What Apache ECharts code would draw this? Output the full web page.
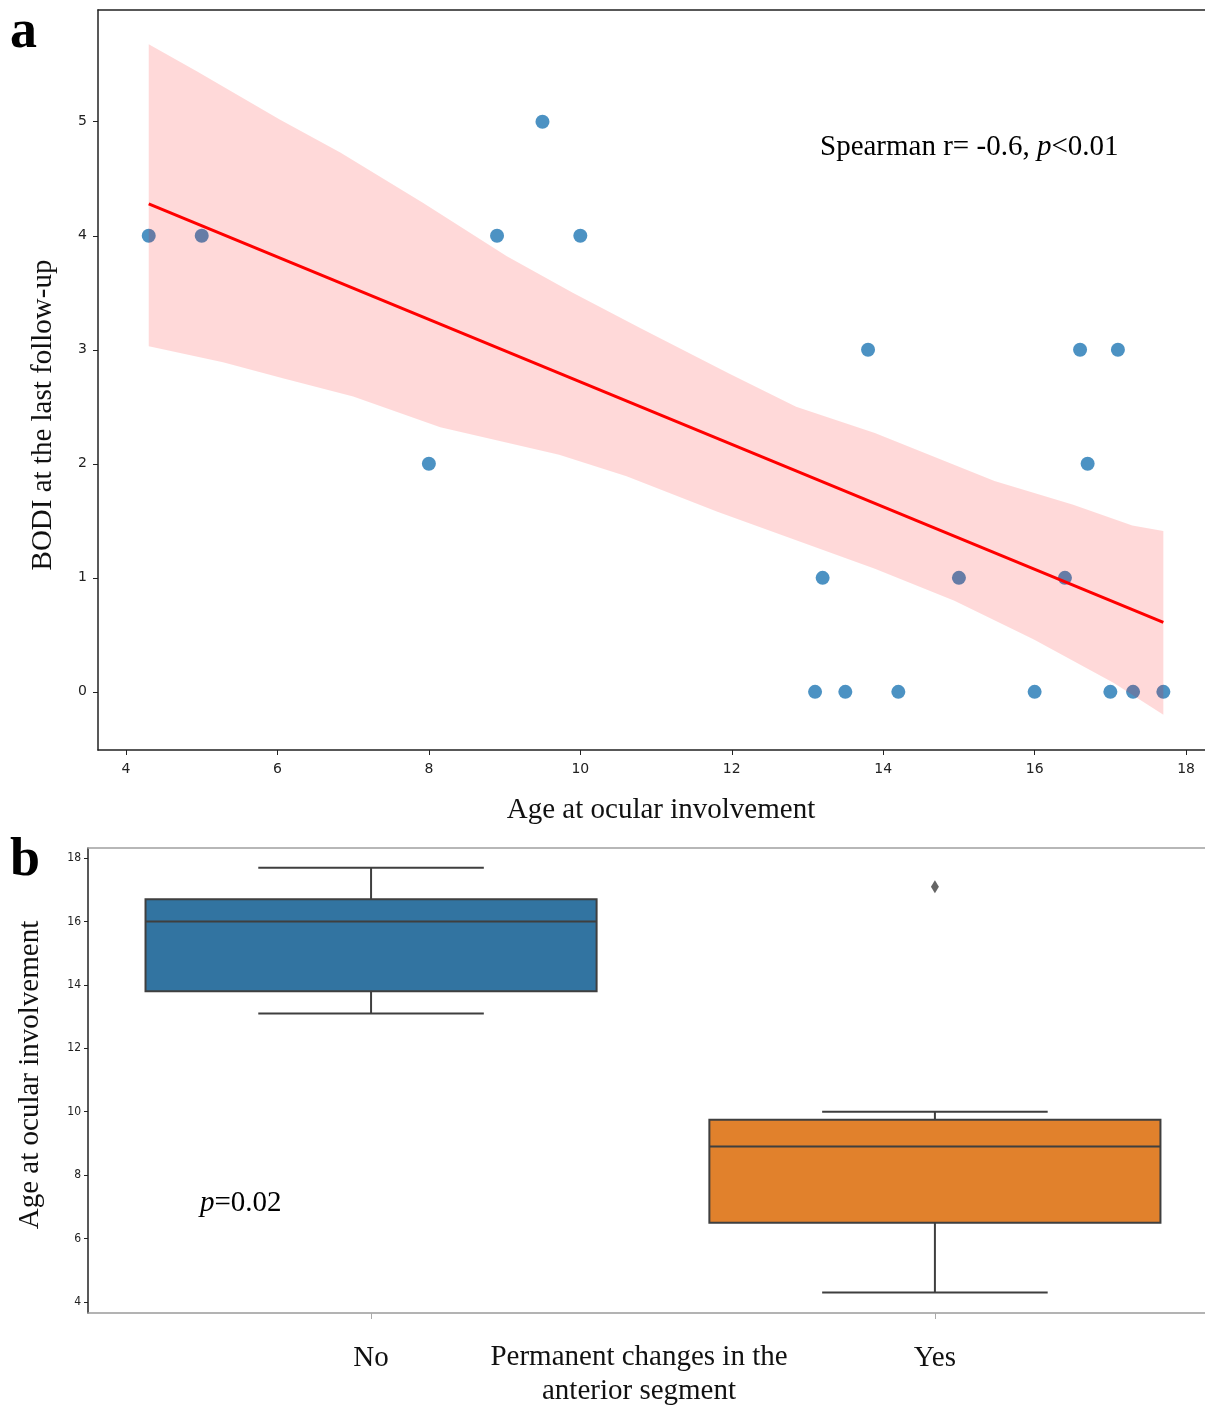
<!DOCTYPE html>
<html>
<head>
<meta charset="utf-8">
<script src="https://cdn.jsdelivr.net/npm/echarts@6/dist/echarts.min.js"></script>
<style>
  html, body { margin: 0; padding: 0; background: #fff; }
  #chart { width: 1205px; height: 1406px; }
</style>
</head>
<body>
<div id="chart"></div>
<script>
// panel a: scatter of BODI vs age
const ageAtInvolvement = [4.3, 5.0, 9.5, 8.9, 10.0, 8.0, 13.8, 16.6, 17.1, 16.7, 13.2, 15.0, 16.4, 13.1, 13.5, 14.2, 16.0, 17.0, 17.3, 17.7];
const bodiLast = [4, 4, 5, 4, 4, 2, 3, 3, 3, 2, 1, 1, 1, 0, 0, 0, 0, 0, 0, 0];

// fitted line ends
const regX = [4.3, 17.7];
const regY = [4.28, 0.61];

// confidence band
const ciUpperX = [4.3, 4.94, 6.03, 6.83, 7.92, 9.03, 9.9, 10.79, 11.97, 12.85, 13.89, 15.47, 16.51, 17.29, 17.7];
const ciUpperY = [5.68, 5.44, 5.02, 4.73, 4.29, 3.82, 3.5, 3.19, 2.79, 2.5, 2.27, 1.85, 1.64, 1.46, 1.41];
const ciLowerX = [4.3, 5.28, 6.07, 7.0, 8.15, 9.72, 10.61, 11.81, 12.85, 13.89, 14.94, 15.99, 17.04, 17.7];
const ciLowerY = [3.03, 2.89, 2.75, 2.59, 2.32, 2.08, 1.89, 1.58, 1.33, 1.08, 0.8, 0.46, 0.08, -0.2];

const ticksA_x = [4, 6, 8, 10, 12, 14, 16, 18];
const ticksA_y = [0, 1, 2, 3, 4, 5];

// panel b: box plots
const groups = ['No', 'Yes'];
// [low whisker, q1, median, q3, high whisker]
const boxStats = [
  [13.1, 13.8, 16.0, 16.7, 17.7],
  [4.3, 6.5, 8.9, 9.75, 10.0]
];
const outliers = [[1, 17.1]];
const boxColors = ['#3274a1', '#e1812c'];
const ticksB_y = [4, 6, 8, 10, 12, 14, 16, 18];

const serif = 'Liberation Serif, Times New Roman, serif';
const nameFont = '29px ' + serif;

const chart = echarts.init(document.getElementById('chart'));

const scatterData = ageAtInvolvement.map((x, i) => [x, bodiLast[i]]);
const bandPoly = ciUpperX.map((x, i) => [x, ciUpperY[i]])
  .concat(ciLowerX.map((x, i) => [x, ciLowerY[i]]).reverse());

const option = {
  animation: false,
  backgroundColor: '#fff',
  grid: [
    { left: 98, top: 10, right: 0, height: 740 },
    { left: 88, top: 848, right: 0, height: 465 }
  ],
  xAxis: [
    {
      gridIndex: 0, type: 'value', min: 3.63, max: 18.25,
      axisLine: { onZero: false, lineStyle: { color: '#222', width: 1.5 } },
      axisTick: { length: 5, lineStyle: { color: '#222' }, customValues: ticksA_x },
      axisLabel: { customValues: ticksA_x, color: '#222', fontSize: 14, fontFamily: 'DejaVu Sans', margin: 12 },
      splitLine: { show: false }
    },
    {
      // top frame line of panel a
      gridIndex: 0, type: 'value', position: 'top', min: 3.63, max: 18.25,
      axisLine: { onZero: false, lineStyle: { color: '#222', width: 1.5 } },
      axisTick: { show: false }, axisLabel: { show: false }, splitLine: { show: false }
    },
    {
      gridIndex: 1, type: 'value', min: -0.502, max: 1.479,
      axisLine: { onZero: false, lineStyle: { color: '#9a9a9a', width: 1.5 } },
      axisTick: { length: 6, lineStyle: { color: '#aaa' }, customValues: [0, 1] },
      axisLabel: {
        customValues: [0, 1], color: '#111', fontSize: 29, fontFamily: serif, margin: 31,
        formatter: v => groups[Math.round(v)]
      },
      splitLine: { show: false }
    },
    {
      // top frame line of panel b
      gridIndex: 1, type: 'value', position: 'top', min: -0.502, max: 1.479,
      axisLine: { onZero: false, lineStyle: { color: '#a0a0a0', width: 1.5 } },
      axisTick: { show: false }, axisLabel: { show: false }, splitLine: { show: false }
    }
  ],
  yAxis: [
    {
      gridIndex: 0, type: 'value', min: -0.51, max: 5.98,
      axisLine: { show: true, onZero: false, lineStyle: { color: '#222', width: 1.5 } },
      axisTick: { show: true, length: 5, lineStyle: { color: '#222' }, customValues: ticksA_y },
      axisLabel: { customValues: ticksA_y, color: '#222', fontSize: 14, fontFamily: 'DejaVu Sans', margin: 11 },
      splitLine: { show: false }
    },
    {
      gridIndex: 1, type: 'value', min: 3.65, max: 18.32,
      axisLine: { show: true, onZero: false, lineStyle: { color: '#222', width: 1.5 } },
      axisTick: { show: true, length: 4, lineStyle: { color: '#222' }, customValues: ticksB_y },
      axisLabel: { customValues: ticksB_y, color: '#222', fontSize: 12, fontFamily: 'DejaVu Sans Condensed, DejaVu Sans', margin: 7 },
      splitLine: { show: false }
    }
  ],
  series: [
    {
      type: 'scatter', xAxisIndex: 0, yAxisIndex: 0, z: 2,
      data: scatterData, symbolSize: 14,
      itemStyle: { color: '#1f77b4', opacity: 0.8 }
    },
    {
      type: 'custom', xAxisIndex: 0, yAxisIndex: 0, z: 3,
      data: [bandPoly[0]],
      renderItem: function (params, api) {
        return {
          type: 'polygon',
          shape: { points: bandPoly.map(p => api.coord(p)) },
          style: { fill: 'rgba(255,0,0,0.15)' }
        };
      }
    },
    {
      type: 'line', xAxisIndex: 0, yAxisIndex: 0, z: 4,
      data: regX.map((x, i) => [x, regY[i]]),
      symbol: 'none',
      lineStyle: { color: '#ff0000', width: 3 }
    },
    {
      type: 'custom', xAxisIndex: 2, yAxisIndex: 1, z: 2,
      data: boxStats.map((s, i) => [i].concat(s)),
      encode: { x: 0, y: [1, 2, 3, 4, 5] },
      renderItem: function (params, api) {
        const c = api.value(0);
        const low = api.coord([c, api.value(1)]);
        const q1 = api.coord([c, api.value(2)]);
        const med = api.coord([c, api.value(3)]);
        const q3 = api.coord([c, api.value(4)]);
        const high = api.coord([c, api.value(5)]);
        const band = api.size([1, 0])[0];
        const hw = band * 0.4, cw = band * 0.2;
        const cx = med[0];
        const stroke = { stroke: '#3f3f3f', lineWidth: 2 };
        return {
          type: 'group',
          children: [
            { type: 'line', shape: { x1: cx, y1: q3[1], x2: cx, y2: high[1] }, style: stroke },
            { type: 'line', shape: { x1: cx, y1: q1[1], x2: cx, y2: low[1] }, style: stroke },
            { type: 'line', shape: { x1: cx - cw, y1: high[1], x2: cx + cw, y2: high[1] }, style: stroke },
            { type: 'line', shape: { x1: cx - cw, y1: low[1], x2: cx + cw, y2: low[1] }, style: stroke },
            { type: 'rect', shape: { x: cx - hw, y: q3[1], width: hw * 2, height: q1[1] - q3[1] },
              style: { fill: boxColors[params.dataIndex], stroke: '#3f3f3f', lineWidth: 2 } },
            { type: 'line', shape: { x1: cx - hw, y1: med[1], x2: cx + hw, y2: med[1] }, style: stroke }
          ]
        };
      }
    },
    {
      type: 'scatter', xAxisIndex: 2, yAxisIndex: 1, z: 3,
      data: outliers, symbol: 'diamond', symbolSize: [8, 13],
      itemStyle: { color: '#3f3f3f' }
    }
  ],
  graphic: [
    { type: 'text', left: 10, top: 6, style: { text: 'a', font: 'bold 54px ' + serif, fill: '#000' } },
    { type: 'text', left: 10, top: 834, style: { text: 'b', font: 'bold 54px ' + serif, fill: '#000' } },
    { type: 'text', x: 43, y: 415, rotation: Math.PI / 2,
      style: { text: 'BODI at the last follow-up', font: nameFont, fill: '#111', align: 'center', verticalAlign: 'middle' } },
    { type: 'text', x: 661, y: 810,
      style: { text: 'Age at ocular involvement', font: nameFont, fill: '#111', align: 'center', verticalAlign: 'middle' } },
    { type: 'text', x: 820, y: 147,
      style: {
        text: '{n|Spearman r= -0.6, }{i|p}{n|<0.01}',
        verticalAlign: 'middle',
        rich: {
          n: { fontFamily: serif, fontSize: 29, color: '#111' },
          i: { fontFamily: serif, fontSize: 29, fontStyle: 'italic', color: '#111' }
        }
      } },
    { type: 'text', x: 30, y: 1075, rotation: Math.PI / 2,
      style: { text: 'Age at ocular involvement', font: nameFont, fill: '#111', align: 'center', verticalAlign: 'middle' } },
    { type: 'text', x: 200, y: 1203,
      style: {
        text: '{i|p}{n|=0.02}',
        verticalAlign: 'middle',
        rich: {
          n: { fontFamily: serif, fontSize: 29, color: '#111' },
          i: { fontFamily: serif, fontSize: 29, fontStyle: 'italic', color: '#111' }
        }
      } },
    { type: 'text', x: 639, y: 1374,
      style: { text: 'Permanent changes in the\nanterior segment', font: nameFont, fill: '#111',
        align: 'center', verticalAlign: 'middle', lineHeight: 34 } }
  ]
};

chart.setOption(option);
</script>
</body>
</html>
